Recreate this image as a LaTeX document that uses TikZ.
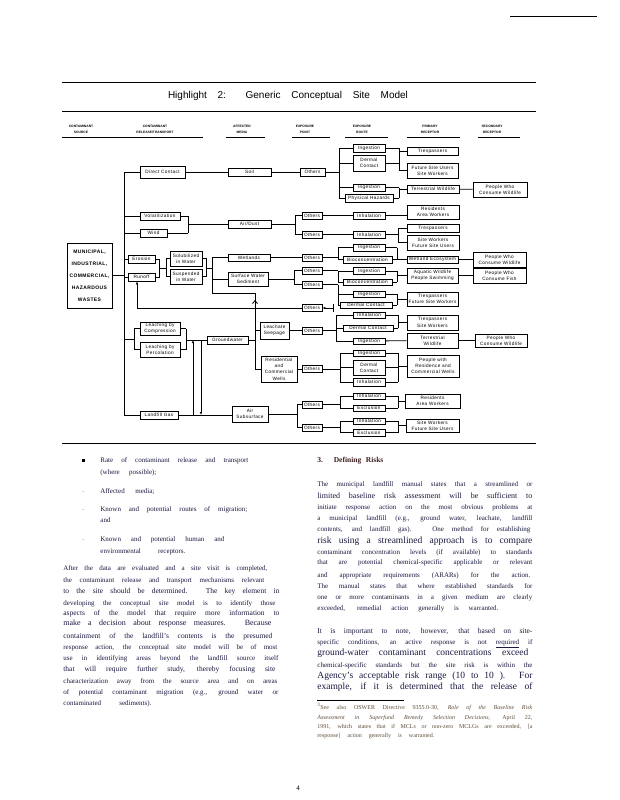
\documentclass[tikz,border=0pt]{standalone}
\usepackage{fontspec}
\setmainfont{Liberation Serif}
\newfontfamily\dsans[LetterSpace=8]{Liberation Sans}
\newfontfamily\hsans{Liberation Sans}
\usetikzlibrary{arrows.meta}
\definecolor{bodyc}{RGB}{25,25,65}
\definecolor{footc}{RGB}{95,78,60}
\definecolor{headc}{RGB}{60,30,30}
\tikzset{
 dbox/.style={draw, line width=0.6pt, inner sep=0pt, align=center, fill=white, font=\dsans\fontsize{4.7}{6.3}\selectfont},
 hdr/.style={inner sep=0pt, align=center, font=\hsans\bfseries\fontsize{3.3}{6.5}\selectfont},
 txt/.style={anchor=base west, inner sep=0pt, text=bodyc},
 rulel/.style={line width=0.9pt},
 tip/.style={-{Latex[length=3pt,width=2.4pt]}},
}
\newcommand{\mkbox}[6]{\node[dbox,minimum width={(#4-#2)*1pt},minimum height={(#5-#3)*1pt}] (#1) at ({(#2+#4)/2},{(#3+#5)/2}) {#6};}
\newcommand{\jbr}[5]{%
  \draw (#1 |- #2.center) -- (#1 |- #3.center);
  \foreach \t in {#4} {\draw (\t.east) -- (\t.east -| #1);}
  \foreach \t in {#5} {\draw (#1 |- \t.west) -- (\t.west);}}
\newcommand{\tline}[6]{\node[txt,font=\fontsize{#5}{#5}\selectfont] (#1) at (#2,#3) {\makebox[#4pt][s]{#6}};}
\begin{document}
\begin{tikzpicture}[x=1pt,y=-1pt,line width=0.8pt]
\fill[white] (0,0) rectangle (619,800);
\useasboundingbox (0,0) rectangle (619,800);

% page furniture
\draw[rulel] (510,16) -- (597,16);
\draw[rulel] (62,82) -- (536,82);
\draw[rulel] (62,111) -- (536,111);
\draw[rulel] (62,443) -- (536,443);
\node[font=\hsans\fontsize{10}{10}\selectfont,inner sep=0pt] (title) at (288,96) {\makebox[240pt][s]{Highlight 2: Generic Conceptual Site Model}};

% column headers
\node[hdr] (h1) at (81,129.5) {CONTAMINANT\\SOURCE};
\node[hdr] (h2) at (155,129.5) {CONTAMINANT\\RELEASE/TRANSPORT};
\node[hdr] (h3) at (242,129.5) {AFFECTED\\MEDIA};
\node[hdr] (h4) at (305,129.5) {EXPOSURE\\POINT};
\node[hdr] (h5) at (362,129.5) {EXPOSURE\\ROUTE};
\node[hdr] (h6) at (430,129.5) {PRIMARY\\RECEPTOR};
\node[hdr] (h7) at (492,129.5) {SECONDARY\\RECEPTOR};
\draw[rulel] (62,137) -- (203,137);
\draw[rulel] (226,137) -- (265,137);
\draw[rulel] (292,137) -- (330,137);
\draw[rulel] (345,137) -- (388,137);
\draw[rulel] (407,137) -- (460,137);
\draw[rulel] (478,137) -- (520,137);

% source
\node[dbox,font=\dsans\bfseries\fontsize{5}{12}\selectfont,minimum width=45pt,minimum height=65pt] (src) at (89.5,275.5) {MUNICIPAL,\\INDUSTRIAL,\\COMMERCIAL,\\HAZARDOUS\\WASTES};

% release / transport
\mkbox{dc}{140}{166}{185}{178}{Direct Contact}
\mkbox{vol}{140}{212}{180}{220}{Volatilization}
\mkbox{wind}{140}{229}{167}{237}{Wind}
\mkbox{ero}{128}{255}{155}{263}{Erosion}
\mkbox{run}{128}{273}{155}{281}{Runoff}
\mkbox{leC}{140}{322}{180}{335}{Leaching by\\Compression}
\mkbox{leP}{140}{342}{180}{357}{Leaching by\\Percolation}
\mkbox{gas}{140}{411}{178}{419}{Landfill Gas}

% media
\mkbox{soil}{228}{168}{271}{176}{Soil}
\mkbox{air}{228}{220}{271}{228}{Air/Dust}
\mkbox{sol}{170}{251}{202}{266}{Solubilized\\in Water}
\mkbox{sus}{170}{269}{202}{284}{Suspended\\in Water}
\mkbox{wet}{228}{254}{270}{261}{Wetlands}
\mkbox{sws}{228}{272}{268}{286}{Surface Water\\Sediment}
\mkbox{gw}{207}{336}{248}{344}{Groundwater}
\mkbox{seep}{260}{322}{289}{339}{Leachate\\Seepage}
\mkbox{wells}{261}{356}{297}{382}{Residential\\and\\Commercial\\Wells}
\mkbox{asub}{232}{406}{268}{422}{Air\\Subsurface}

% exposure points
\mkbox{oA}{300}{168}{325}{176}{Others}
\mkbox{oB1}{302}{212}{322}{219}{Others}
\mkbox{oB2}{302}{231}{322}{238}{Others}
\mkbox{oC1}{302}{254}{322}{261}{Others}
\mkbox{oC2}{302}{267}{322}{274}{Others}
\mkbox{oC3}{302}{281}{322}{288}{Others}
\mkbox{oC4}{302}{304.5}{322}{311.5}{Others}
\mkbox{oC5}{302}{327}{322}{334}{Others}
\mkbox{oC6}{302}{365.5}{322}{372.5}{Others}
\mkbox{oC7}{302}{401}{322}{408}{Others}
\mkbox{oC8}{302}{424}{322}{431}{Others}

% exposure routes
\mkbox{rA1}{353}{144}{385}{152}{Ingestion}
\mkbox{rA2}{353}{155}{385}{171}{Dermal\\Contact}
\mkbox{rA3}{353}{184}{385}{191}{Ingestion}
\mkbox{rA4}{345}{194}{393}{202}{Physical Hazards}
\mkbox{rB1}{353}{212}{385}{219}{Inhalation}
\mkbox{rB2}{353}{231}{385}{238}{Inhalation}
\mkbox{rC1a}{353}{244}{385}{251}{Ingestion}
\mkbox{rC1b}{343}{256}{392}{263}{Bioconcentration}
\mkbox{rC2a}{353}{267.5}{385}{274.5}{Ingestion}
\mkbox{rC2b}{343}{279}{392}{285}{Bioconcentration}
\mkbox{rC3a}{353}{291}{385}{297}{Ingestion}
\mkbox{rC3b}{340}{302}{392}{308}{Dermal Contact}
\mkbox{rC5a}{353}{312}{385}{318}{Inhalation}
\mkbox{rC5b}{343}{325}{393}{331}{Dermal Contact}
\mkbox{rC5c}{353}{338}{385}{344}{Ingestion}
\mkbox{rC6a}{353}{350}{385}{356}{Ingestion}
\mkbox{rC6b}{353}{360}{385}{375}{Dermal\\Contact}
\mkbox{rC6c}{353}{378}{385}{386}{Inhalation}
\mkbox{rC7a}{353}{393}{385}{399}{Inhalation}
\mkbox{rC7b}{353}{405}{385}{411}{Exclusion}
\mkbox{rC8a}{353}{418}{385}{424}{Inhalation}
\mkbox{rC8b}{353}{429}{385}{436}{Exclusion}

% primary receptors
\mkbox{pA1}{407}{147}{458}{155}{Trespassers}
\mkbox{pA2}{407}{163}{458}{178}{Future Site Users\\Site Workers}
\mkbox{pA3}{407}{185}{459}{193}{Terrestrial Wildlife}
\mkbox{pB1}{407}{205}{459}{219}{Residents\\Area Workers}
\mkbox{pB2}{407}{224}{459}{232}{Trespassers}
\mkbox{pB3}{407}{235}{459}{250}{Site Workers\\Future Site Users}
\mkbox{pC1}{407}{256}{458}{263}{Wetland Ecosystem}
\mkbox{pC2}{407}{268}{458}{283}{Aquatic Wildlife\\People Swimming}
\mkbox{pC3}{407}{292}{458}{306}{Trespassers\\Future Site Workers}
\mkbox{pC5}{407}{315}{458}{330}{Trespassers\\Site Workers}
\mkbox{pC5b}{407}{333}{458}{348}{Terrestrial\\Wildlife}
\mkbox{pC6}{407}{355}{459}{377}{People with\\Residence and\\Commercial Wells}
\mkbox{pC7}{405}{394}{460}{408}{Residents\\Area Workers}
\mkbox{pC8}{406}{419}{459}{432}{Site Workers\\Future Site Users}

% secondary receptors
\mkbox{sA}{473}{182}{527}{197}{People Who\\Consume Wildlife}
\mkbox{sC1}{473}{252}{526}{267}{People Who\\Consume Wildlife}
\mkbox{sC2}{473}{268}{526}{283}{People Who\\Consume Fish}
\mkbox{sC5}{475}{334}{527}{347}{People Who\\Consume Wildlife}

% junction coordinates
\coordinate (tk) at (124,0);
\coordinate (jV) at (188,0);
\coordinate (jAir) at (295,0);
\coordinate (jW) at (294,0);
\coordinate (jAs) at (297,0);
\coordinate (jLb) at (186,0);
\coordinate (jA) at (339,0);
\coordinate (jA2) at (399,0);
\coordinate (jA3) at (399,0);
\coordinate (jB) at (398,0);
\coordinate (jC1) at (338,0);
\coordinate (jC1b) at (397,0);
\coordinate (jC2) at (338,0);
\coordinate (jC2b) at (397,0);
\coordinate (jC3) at (338,0);
\coordinate (jC3b) at (397,0);
\coordinate (jC5) at (336,0);
\coordinate (jC5b) at (398,0);
\coordinate (jC6) at (340,0);
\coordinate (jC6b) at (398,0);
\coordinate (jC7) at (340,0);
\coordinate (jC7b) at (398,0);
\coordinate (jC8) at (340,0);
\coordinate (jC8b) at (398,0);

% trunk
\draw (src.east) -- (src.east -| tk);
\draw (tk |- dc.west) -- (tk |- gas.west);
\foreach \t in {dc,vol,wind,ero,run,gas} {\draw (tk |- \t.west) -- (\t.west);}

% leaching
\coordinate (jLa) at (134,339);
\draw (tk |- jLa) -- (jLa);
\draw (leC.west) -| (jLa);
\draw (leP.west) -| (jLa);
\jbr{jLb}{leC}{leP}{leC,leP}{gw}
\coordinate (va1) at (193,340);
\coordinate (va2) at (201,340);
\draw[tip] (va1 |- gas.east) -- (va1);
\draw[tip] (va2) -- (va2 |- gas.east);

% soil / air
\draw (dc.east) -- (dc.east -| soil.west);
\draw (soil) -- (oA);
\jbr{jV}{vol}{wind}{vol,wind}{air}
\jbr{jAir}{oB1}{oB2}{air}{oB1,oB2}

% surface water chain
\coordinate (jS1) at (159,268);
\coordinate (jS2) at (166,268);
\coordinate (jS3) at (206,268);
\coordinate (jS4) at (212,268);
\coordinate (jS5) at (212,293);
\coordinate (jS6) at (255,293);
\draw (ero.east) -| (jS1);
\draw (run.east) -| (jS1);
\draw (jS1) -- (jS2);
\draw (sol.west) -| (jS2);
\draw (sus.west) -| (jS2);
\draw (sol.east) -| (jS3);
\draw (sus.east) -| (jS3);
\draw (jS3) -- (jS4);
\draw (wet.west) -| (jS5);
\draw (sws.west) -| (jS5);
\draw (jS5) -- (jS6) -- (jS6 |- wells.west) -- (wells.west);
\draw (seep.west) -- (seep.west -| jS6);
\draw (gw.east) -- (gw.east -| jS6);
\coordinate (ua1) at (255,312);
\coordinate (ua2) at (255,300);
\draw[-{Straight Barb[length=3pt,width=5pt]}] (ua1) -- (ua2);
\coordinate (rj) at (137,308);
\draw[tip] (rj) -- (rj |- run.south);
\draw (rj) -- (rj -| oC4.west);
\coordinate (c4r) at (333,308);
\coordinate (c4t) at (333,304);
\coordinate (c4b) at (333,312);
\draw[tip] (c4r) -- (oC4.east);
\draw (c4t) -- (c4b);
\draw (wet.east) -- (oC1.west);
\jbr{jW}{oC2}{oC3}{sws}{oC2,oC3}
\draw (seep.east) -- (oC5.west);
\draw (wells.east) -- (oC6.west);
\draw (gas.east) -- (gas.east -| asub.west);
\jbr{jAs}{oC7}{oC8}{asub}{oC7,oC8}

% routes and receptors
\jbr{jA}{rA1}{rA4}{oA}{rA1,rA2,rA3,rA4}
\jbr{jA2}{rA1}{pA2}{rA1,rA2}{pA1,pA2}
\jbr{jA3}{rA3}{rA4}{rA3,rA4}{pA3}
\draw (pA3) -- (sA);
\draw (oB1) -- (rB1);
\draw (rB1.east) -- (rB1.east -| pB1.west);
\draw (oB2) -- (rB2);
\jbr{jB}{pB2}{pB3}{rB2}{pB2,pB3}
\jbr{jC1}{rC1a}{rC1b}{oC1}{rC1a,rC1b}
\jbr{jC1b}{rC1a}{rC1b}{rC1a,rC1b}{pC1}
\draw (pC1) -- (sC1);
\jbr{jC2}{rC2a}{rC2b}{oC2}{rC2a,rC2b}
\jbr{jC2b}{rC2a}{rC2b}{rC2a,rC2b}{pC2}
\draw (pC2) -- (sC2);
\jbr{jC3}{oC3}{rC3b}{oC3}{rC3a,rC3b}
\jbr{jC3b}{rC3a}{rC3b}{rC3a,rC3b}{pC3}
\jbr{jC5}{rC5a}{rC5c}{oC5}{rC5a,rC5b,rC5c}
\jbr{jC5b}{rC5a}{rC5b}{rC5a,rC5b}{pC5}
\draw (rC5c) -- (pC5b);
\draw (pC5b) -- (sC5);
\jbr{jC6}{rC6a}{rC6c}{oC6}{rC6a,rC6b,rC6c}
\jbr{jC6b}{rC6a}{rC6c}{rC6a,rC6b,rC6c}{pC6}
\jbr{jC7}{rC7a}{rC7b}{oC7}{rC7a,rC7b}
\jbr{jC7b}{rC7a}{rC7b}{rC7a,rC7b}{pC7}
\jbr{jC8}{rC8a}{rC8b}{oC8}{rC8a,rC8b}
\jbr{jC8b}{rC8a}{rC8b}{rC8a,rC8b}{pC8}

% left column text
\node[txt,text=black] (b1) at (82,462) {\rule{2.2pt}{2.6pt}};
\node[txt,text=gray,font=\fontsize{6}{6}\selectfont] (b2) at (82,493) {-};
\node[txt,text=gray,font=\fontsize{6}{6}\selectfont] (b3) at (82,511) {-};
\node[txt,text=gray,font=\fontsize{6}{6}\selectfont] (b4) at (82,541) {-};
\tline{L1}{100}{462}{148}{7}{Rate of contaminant release and transport}
\tline{L2}{100}{474}{56}{7}{(where possible);}
\tline{L3}{100}{493}{54}{7}{Affected media;}
\tline{L4}{100}{511}{147}{7}{Known and potential routes of migration;}
\tline{L5}{100}{522}{11}{7}{and}
\tline{L6}{100}{541}{124}{7}{Known and potential human and}
\tline{L7}{100}{553}{85}{7}{environmental receptors.}
\tline{L8}{63}{570}{204}{7}{After the data are evaluated and a site visit is completed,}
\tline{L9}{63}{582}{201}{7}{the contaminant release and transport mechanisms relevant}
\tline{L10}{63}{593}{216}{7.5}{to the site should be determined. The key element in}
\tline{L11}{63}{605}{212}{7}{developing the conceptual site model is to identify those}
\tline{L12}{63}{615}{216}{7.5}{aspects of the model that require more information to}
\tline{L13}{63}{625}{208}{8}{make a decision about response measures. Because}
\tline{L14}{63}{638}{209}{7.5}{containment of the landfill’s contents is the presumed}
\tline{L15}{63}{649}{214}{7}{response action, the conceptual site model will be of most}
\tline{L16}{63}{660}{215}{7}{use in identifying areas beyond the landfill source itself}
\tline{L17}{63}{671}{212}{7.5}{that will require further study, thereby focusing site}
\tline{L18}{63}{683}{214}{7}{characterization away from the source area and on areas}
\tline{L19}{63}{694}{215}{7}{of potential contaminant migration (e.g., ground water or}
\tline{L20}{63}{705}{88}{7}{contaminated sediments).}

% right column text
\tline{R0}{317}{462}{66}{7.5}{\bfseries\color{headc}3. Defining Risks}
\tline{R1}{317}{486}{215}{7}{The municipal landfill manual states that a streamlined or}
\tline{R2}{317}{498}{215}{8}{limited baseline risk assessment will be sufficient to}
\tline{R3}{317}{509}{215}{7}{initiate response action on the most obvious problems at}
\tline{R4}{317}{520}{215}{7}{a municipal landfill (e.g., ground water, leachate, landfill}
\tline{R5}{317}{531}{213}{7}{contents, and landfill gas). One method for establishing}
\tline{R6}{317}{543}{215}{9.5}{risk using a streamlined approach is to compare}
\tline{R7}{317}{554}{215}{7}{contaminant concentration levels (if available) to standards}
\tline{R8}{317}{564}{215}{7}{that are potential chemical-specific applicable or relevant}
\tline{R9}{317}{577}{213}{7}{and appropriate requirements (ARARs) for the action.}
\tline{R10}{317}{588}{215}{7}{The manual states that where established standards for}
\tline{R11}{317}{599}{215}{7}{one or more contaminants in a given medium are clearly}
\tline{R12}{317}{610}{181}{7}{exceeded, remedial action generally is warranted.}
\tline{R13}{317}{633}{215}{7.5}{It is important to note, however, that based on site-}
\tline{R14}{317}{644}{215}{7}{specific conditions, an active response is not \underline{required} if}
\tline{R15}{317}{655}{211}{9.5}{ground-water contaminant concentrations exceed}
\tline{R16}{317}{667}{215}{7}{chemical-specific standards but the site risk is within the}
\tline{R17}{317}{678}{215}{9.5}{Agency’s acceptable risk range (10 to 10 ). For}
\tline{R18}{317}{689}{215}{9.5}{example, if it is determined that the release of}
\draw[line width=0.8pt] (317,700) -- (404,700);
\tline{F1}{317}{709}{215}{6}{\color{footc}\textsuperscript{3}See also OSWER Directive 9355.0-30, \textit{Role of the Baseline Risk}}
\tline{F2}{317}{719}{215}{6}{\color{footc}\textit{Assessment in Superfund Remedy Selection Decisions,} April 22,}
\tline{F3}{317}{728}{215}{6}{\color{footc}1991, which states that if MCLs or non-zero MCLGs are exceeded, [a}
\tline{F4}{317}{737}{117}{6}{\color{footc}response] action generally is warranted.}
\node[txt,text=black,font=\fontsize{7}{7}\selectfont] (pg) at (296,790) {4};
\end{tikzpicture}
\end{document}
